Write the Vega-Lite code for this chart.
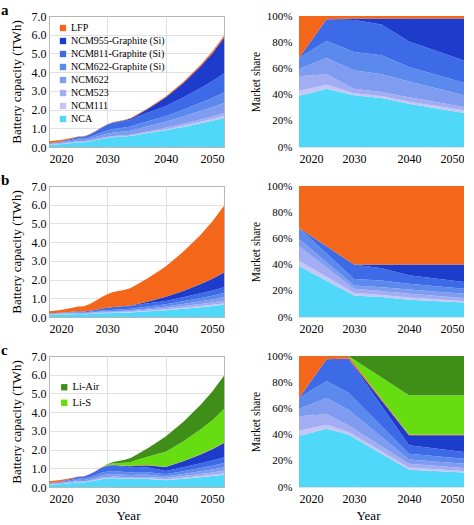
{
"$schema":"https://vega.github.io/schema/vega-lite/v6.json",
"background":"white",
"padding":{"left":0,"top":2,"right":0,"bottom":0},
"config":{
 "font":"Liberation Serif",
 "view":{"stroke":null},
 "axis":{"labelFont":"Liberation Serif","titleFont":"Liberation Serif","labelFontSize":12,"titleFontSize":13,"titleFontWeight":"normal","labelColor":"#000","titleColor":"#000","ticks":false,"domain":false,"gridColor":"#d9d9d9","gridWidth":0.8},
 "axisX":{"labelPadding":6,"titlePadding":5},
 "axisY":{"labelPadding":3,"titlePadding":8},
 "legend":{"labelFont":"Liberation Serif","labelFontSize":10,"labelColor":"#000","symbolType":"square","symbolSize":40,"symbolStrokeWidth":0,"symbolOpacity":1,"rowPadding":3,"labelOffset":3,"padding":0}
},
"datasets":{
"cats":[{"k":"nca","cat":"NCA","o":1},{"k":"n111","cat":"NCM111","o":2},{"k":"n523","cat":"NCM523","o":3},{"k":"n622","cat":"NCM622","o":4},{"k":"g622","cat":"NCM622-Graphite (Si)","o":5},{"k":"g811","cat":"NCM811-Graphite (Si)","o":6},{"k":"g955","cat":"NCM955-Graphite (Si)","o":7},{"k":"lfp","cat":"LFP","o":8},{"k":"lis","cat":"Li-S","o":9},{"k":"air","cat":"Li-Air","o":10}],
"aL":[
{"yr":2020,"k":"nca","v":0.117},{"yr":2020,"k":"n111","v":0.012},{"yr":2020,"k":"n523","v":0.033},{"yr":2020,"k":"n622","v":0.017},{"yr":2020,"k":"g622","v":0.026},{"yr":2020,"k":"g811","v":0},{"yr":2020,"k":"g955","v":0},{"yr":2020,"k":"lfp","v":0.096},
{"yr":2022,"k":"nca","v":0.152},{"yr":2022,"k":"n111","v":0.013},{"yr":2022,"k":"n523","v":0.036},{"yr":2022,"k":"n622","v":0.031},{"yr":2022,"k":"g622","v":0.038},{"yr":2022,"k":"g811","v":0.024},{"yr":2022,"k":"g955","v":0},{"yr":2022,"k":"lfp","v":0.075},
{"yr":2024,"k":"nca","v":0.213},{"yr":2024,"k":"n111","v":0.016},{"yr":2024,"k":"n523","v":0.042},{"yr":2024,"k":"n622","v":0.054},{"yr":2024,"k":"g622","v":0.059},{"yr":2024,"k":"g811","v":0.065},{"yr":2024,"k":"g955","v":0},{"yr":2024,"k":"lfp","v":0.041},
{"yr":2025,"k":"nca","v":0.249},{"yr":2025,"k":"n111","v":0.017},{"yr":2025,"k":"n523","v":0.045},{"yr":2025,"k":"n622","v":0.070},{"yr":2025,"k":"g622","v":0.073},{"yr":2025,"k":"g811","v":0.092},{"yr":2025,"k":"g955","v":0},{"yr":2025,"k":"lfp","v":0.014},
{"yr":2026,"k":"nca","v":0.248},{"yr":2026,"k":"n111","v":0.015},{"yr":2026,"k":"n523","v":0.040},{"yr":2026,"k":"n622","v":0.073},{"yr":2026,"k":"g622","v":0.075},{"yr":2026,"k":"g811","v":0.103},{"yr":2026,"k":"g955","v":0.001},{"yr":2026,"k":"lfp","v":0.014},
{"yr":2027,"k":"nca","v":0.293},{"yr":2027,"k":"n111","v":0.017},{"yr":2027,"k":"n523","v":0.043},{"yr":2027,"k":"n622","v":0.090},{"yr":2027,"k":"g622","v":0.092},{"yr":2027,"k":"g811","v":0.136},{"yr":2027,"k":"g955","v":0.003},{"yr":2027,"k":"lfp","v":0.016},
{"yr":2028,"k":"nca","v":0.357},{"yr":2028,"k":"n111","v":0.018},{"yr":2028,"k":"n523","v":0.046},{"yr":2028,"k":"n622","v":0.115},{"yr":2028,"k":"g622","v":0.117},{"yr":2028,"k":"g811","v":0.183},{"yr":2028,"k":"g955","v":0.005},{"yr":2028,"k":"lfp","v":0.019},
{"yr":2029,"k":"nca","v":0.425},{"yr":2029,"k":"n111","v":0.019},{"yr":2029,"k":"n523","v":0.046},{"yr":2029,"k":"n622","v":0.144},{"yr":2029,"k":"g622","v":0.145},{"yr":2029,"k":"g811","v":0.240},{"yr":2029,"k":"g955","v":0.008},{"yr":2029,"k":"lfp","v":0.022},
{"yr":2030,"k":"nca","v":0.482},{"yr":2030,"k":"n111","v":0.018},{"yr":2030,"k":"n523","v":0.043},{"yr":2030,"k":"n622","v":0.171},{"yr":2030,"k":"g622","v":0.171},{"yr":2030,"k":"g811","v":0.299},{"yr":2030,"k":"g955","v":0.012},{"yr":2030,"k":"lfp","v":0.024},
{"yr":2031,"k":"nca","v":0.524},{"yr":2031,"k":"n111","v":0.020},{"yr":2031,"k":"n523","v":0.046},{"yr":2031,"k":"n622","v":0.186},{"yr":2031,"k":"g622","v":0.189},{"yr":2031,"k":"g811","v":0.326},{"yr":2031,"k":"g955","v":0.023},{"yr":2031,"k":"lfp","v":0.027},
{"yr":2033,"k":"nca","v":0.559},{"yr":2033,"k":"n111","v":0.022},{"yr":2033,"k":"n523","v":0.047},{"yr":2033,"k":"n622","v":0.200},{"yr":2033,"k":"g622","v":0.209},{"yr":2033,"k":"g811","v":0.349},{"yr":2033,"k":"g955","v":0.045},{"yr":2033,"k":"lfp","v":0.029},
{"yr":2034,"k":"nca","v":0.587},{"yr":2034,"k":"n111","v":0.023},{"yr":2034,"k":"n523","v":0.048},{"yr":2034,"k":"n622","v":0.211},{"yr":2034,"k":"g622","v":0.223},{"yr":2034,"k":"g811","v":0.367},{"yr":2034,"k":"g955","v":0.059},{"yr":2034,"k":"lfp","v":0.031},
{"yr":2035,"k":"nca","v":0.645},{"yr":2035,"k":"n111","v":0.026},{"yr":2035,"k":"n523","v":0.052},{"yr":2035,"k":"n622","v":0.232},{"yr":2035,"k":"g622","v":0.249},{"yr":2035,"k":"g811","v":0.404},{"yr":2035,"k":"g955","v":0.077},{"yr":2035,"k":"lfp","v":0.034},
{"yr":2037,"k":"nca","v":0.743},{"yr":2037,"k":"n111","v":0.031},{"yr":2037,"k":"n523","v":0.067},{"yr":2037,"k":"n622","v":0.268},{"yr":2037,"k":"g622","v":0.272},{"yr":2037,"k":"g811","v":0.456},{"yr":2037,"k":"g955","v":0.202},{"yr":2037,"k":"lfp","v":0.042},
{"yr":2040,"k":"nca","v":0.891},{"yr":2040,"k":"n111","v":0.041},{"yr":2040,"k":"n523","v":0.095},{"yr":2040,"k":"n622","v":0.324},{"yr":2040,"k":"g622","v":0.297},{"yr":2040,"k":"g811","v":0.527},{"yr":2040,"k":"g955","v":0.473},{"yr":2040,"k":"lfp","v":0.054},
{"yr":2043,"k":"nca","v":1.075},{"yr":2043,"k":"n111","v":0.057},{"yr":2043,"k":"n523","v":0.111},{"yr":2043,"k":"n622","v":0.386},{"yr":2043,"k":"g622","v":0.367},{"yr":2043,"k":"g811","v":0.653},{"yr":2043,"k":"g955","v":0.760},{"yr":2043,"k":"lfp","v":0.070},
{"yr":2046,"k":"nca","v":1.267},{"yr":2046,"k":"n111","v":0.079},{"yr":2046,"k":"n523","v":0.128},{"yr":2046,"k":"n622","v":0.449},{"yr":2046,"k":"g622","v":0.444},{"yr":2046,"k":"g811","v":0.792},{"yr":2046,"k":"g955","v":1.153},{"yr":2046,"k":"lfp","v":0.088},
{"yr":2048,"k":"nca","v":1.397},{"yr":2048,"k":"n111","v":0.097},{"yr":2048,"k":"n523","v":0.138},{"yr":2048,"k":"n622","v":0.490},{"yr":2048,"k":"g622","v":0.500},{"yr":2048,"k":"g811","v":0.887},{"yr":2048,"k":"g955","v":1.489},{"yr":2048,"k":"lfp","v":0.102},
{"yr":2050,"k":"nca","v":1.547},{"yr":2050,"k":"n111","v":0.119},{"yr":2050,"k":"n523","v":0.149},{"yr":2050,"k":"n622","v":0.536},{"yr":2050,"k":"g622","v":0.565},{"yr":2050,"k":"g811","v":1.012},{"yr":2050,"k":"g955","v":1.904},{"yr":2050,"k":"lfp","v":0.119}
],
"bL":[
{"yr":2020,"k":"nca","v":0.117},{"yr":2020,"k":"n111","v":0.012},{"yr":2020,"k":"n523","v":0.033},{"yr":2020,"k":"n622","v":0.017},{"yr":2020,"k":"g622","v":0.026},{"yr":2020,"k":"g811","v":0},{"yr":2020,"k":"g955","v":0},{"yr":2020,"k":"lfp","v":0.096},
{"yr":2022,"k":"nca","v":0.128},{"yr":2022,"k":"n111","v":0.013},{"yr":2022,"k":"n523","v":0.035},{"yr":2022,"k":"n622","v":0.018},{"yr":2022,"k":"g622","v":0.029},{"yr":2022,"k":"g811","v":0.008},{"yr":2022,"k":"g955","v":0},{"yr":2022,"k":"lfp","v":0.139},
{"yr":2024,"k":"nca","v":0.147},{"yr":2024,"k":"n111","v":0.016},{"yr":2024,"k":"n523","v":0.038},{"yr":2024,"k":"n622","v":0.021},{"yr":2024,"k":"g622","v":0.035},{"yr":2024,"k":"g811","v":0.022},{"yr":2024,"k":"g955","v":0},{"yr":2024,"k":"lfp","v":0.212},
{"yr":2025,"k":"nca","v":0.155},{"yr":2025,"k":"n111","v":0.017},{"yr":2025,"k":"n523","v":0.039},{"yr":2025,"k":"n622","v":0.022},{"yr":2025,"k":"g622","v":0.038},{"yr":2025,"k":"g811","v":0.031},{"yr":2025,"k":"g955","v":0},{"yr":2025,"k":"lfp","v":0.258},
{"yr":2026,"k":"nca","v":0.145},{"yr":2026,"k":"n111","v":0.016},{"yr":2026,"k":"n523","v":0.035},{"yr":2026,"k":"n622","v":0.021},{"yr":2026,"k":"g622","v":0.036},{"yr":2026,"k":"g811","v":0.038},{"yr":2026,"k":"g955","v":0},{"yr":2026,"k":"lfp","v":0.278},
{"yr":2027,"k":"nca","v":0.160},{"yr":2027,"k":"n111","v":0.018},{"yr":2027,"k":"n523","v":0.037},{"yr":2027,"k":"n622","v":0.023},{"yr":2027,"k":"g622","v":0.042},{"yr":2027,"k":"g811","v":0.053},{"yr":2027,"k":"g955","v":0},{"yr":2027,"k":"lfp","v":0.356},
{"yr":2028,"k":"nca","v":0.181},{"yr":2028,"k":"n111","v":0.021},{"yr":2028,"k":"n523","v":0.040},{"yr":2028,"k":"n622","v":0.027},{"yr":2028,"k":"g622","v":0.049},{"yr":2028,"k":"g811","v":0.076},{"yr":2028,"k":"g955","v":0},{"yr":2028,"k":"lfp","v":0.468},
{"yr":2029,"k":"nca","v":0.197},{"yr":2029,"k":"n111","v":0.023},{"yr":2029,"k":"n523","v":0.040},{"yr":2029,"k":"n622","v":0.029},{"yr":2029,"k":"g622","v":0.056},{"yr":2029,"k":"g811","v":0.104},{"yr":2029,"k":"g955","v":0},{"yr":2029,"k":"lfp","v":0.601},
{"yr":2030,"k":"nca","v":0.201},{"yr":2030,"k":"n111","v":0.024},{"yr":2030,"k":"n523","v":0.037},{"yr":2030,"k":"n622","v":0.031},{"yr":2030,"k":"g622","v":0.061},{"yr":2030,"k":"g811","v":0.134},{"yr":2030,"k":"g955","v":0},{"yr":2030,"k":"lfp","v":0.732},
{"yr":2031,"k":"nca","v":0.218},{"yr":2031,"k":"n111","v":0.025},{"yr":2031,"k":"n523","v":0.040},{"yr":2031,"k":"n622","v":0.035},{"yr":2031,"k":"g622","v":0.067},{"yr":2031,"k":"g811","v":0.143},{"yr":2031,"k":"g955","v":0.007},{"yr":2031,"k":"lfp","v":0.804},
{"yr":2033,"k":"nca","v":0.230},{"yr":2033,"k":"n111","v":0.025},{"yr":2033,"k":"n523","v":0.044},{"yr":2033,"k":"n622","v":0.041},{"yr":2033,"k":"g622","v":0.073},{"yr":2033,"k":"g811","v":0.147},{"yr":2033,"k":"g955","v":0.024},{"yr":2033,"k":"lfp","v":0.876},
{"yr":2034,"k":"nca","v":0.241},{"yr":2034,"k":"n111","v":0.025},{"yr":2034,"k":"n523","v":0.047},{"yr":2034,"k":"n622","v":0.045},{"yr":2034,"k":"g622","v":0.078},{"yr":2034,"k":"g811","v":0.152},{"yr":2034,"k":"g955","v":0.033},{"yr":2034,"k":"lfp","v":0.930},
{"yr":2035,"k":"nca","v":0.263},{"yr":2035,"k":"n111","v":0.026},{"yr":2035,"k":"n523","v":0.052},{"yr":2035,"k":"n622","v":0.052},{"yr":2035,"k":"g622","v":0.086},{"yr":2035,"k":"g811","v":0.163},{"yr":2035,"k":"g955","v":0.046},{"yr":2035,"k":"lfp","v":1.032},
{"yr":2037,"k":"nca","v":0.301},{"yr":2037,"k":"n111","v":0.032},{"yr":2037,"k":"n523","v":0.062},{"yr":2037,"k":"n622","v":0.064},{"yr":2037,"k":"g622","v":0.099},{"yr":2037,"k":"g811","v":0.172},{"yr":2037,"k":"g955","v":0.102},{"yr":2037,"k":"lfp","v":1.248},
{"yr":2040,"k":"nca","v":0.356},{"yr":2040,"k":"n111","v":0.043},{"yr":2040,"k":"n523","v":0.081},{"yr":2040,"k":"n622","v":0.086},{"yr":2040,"k":"g622","v":0.119},{"yr":2040,"k":"g811","v":0.173},{"yr":2040,"k":"g955","v":0.221},{"yr":2040,"k":"lfp","v":1.620},
{"yr":2043,"k":"nca","v":0.436},{"yr":2043,"k":"n111","v":0.052},{"yr":2043,"k":"n523","v":0.097},{"yr":2043,"k":"n622","v":0.112},{"yr":2043,"k":"g622","v":0.147},{"yr":2043,"k":"g811","v":0.209},{"yr":2043,"k":"g955","v":0.339},{"yr":2043,"k":"lfp","v":2.088},
{"yr":2046,"k":"nca","v":0.523},{"yr":2046,"k":"n111","v":0.060},{"yr":2046,"k":"n523","v":0.114},{"yr":2046,"k":"n622","v":0.143},{"yr":2046,"k":"g622","v":0.178},{"yr":2046,"k":"g811","v":0.247},{"yr":2046,"k":"g955","v":0.495},{"yr":2046,"k":"lfp","v":2.640},
{"yr":2048,"k":"nca","v":0.583},{"yr":2048,"k":"n111","v":0.065},{"yr":2048,"k":"n523","v":0.124},{"yr":2048,"k":"n622","v":0.167},{"yr":2048,"k":"g622","v":0.200},{"yr":2048,"k":"g811","v":0.273},{"yr":2048,"k":"g955","v":0.626},{"yr":2048,"k":"lfp","v":3.060},
{"yr":2050,"k":"nca","v":0.655},{"yr":2050,"k":"n111","v":0.071},{"yr":2050,"k":"n523","v":0.137},{"yr":2050,"k":"n622","v":0.196},{"yr":2050,"k":"g622","v":0.226},{"yr":2050,"k":"g811","v":0.303},{"yr":2050,"k":"g955","v":0.791},{"yr":2050,"k":"lfp","v":3.570}
],
"cL":[
{"yr":2020,"k":"nca","v":0.117},{"yr":2020,"k":"n111","v":0.012},{"yr":2020,"k":"n523","v":0.033},{"yr":2020,"k":"n622","v":0.017},{"yr":2020,"k":"g622","v":0.026},{"yr":2020,"k":"g811","v":0},{"yr":2020,"k":"g955","v":0},{"yr":2020,"k":"lfp","v":0.096},{"yr":2020,"k":"lis","v":0},{"yr":2020,"k":"air","v":0},
{"yr":2022,"k":"nca","v":0.152},{"yr":2022,"k":"n111","v":0.013},{"yr":2022,"k":"n523","v":0.036},{"yr":2022,"k":"n622","v":0.031},{"yr":2022,"k":"g622","v":0.038},{"yr":2022,"k":"g811","v":0.024},{"yr":2022,"k":"g955","v":0},{"yr":2022,"k":"lfp","v":0.075},{"yr":2022,"k":"lis","v":0},{"yr":2022,"k":"air","v":0},
{"yr":2024,"k":"nca","v":0.213},{"yr":2024,"k":"n111","v":0.016},{"yr":2024,"k":"n523","v":0.042},{"yr":2024,"k":"n622","v":0.054},{"yr":2024,"k":"g622","v":0.059},{"yr":2024,"k":"g811","v":0.065},{"yr":2024,"k":"g955","v":0},{"yr":2024,"k":"lfp","v":0.041},{"yr":2024,"k":"lis","v":0},{"yr":2024,"k":"air","v":0},
{"yr":2025,"k":"nca","v":0.249},{"yr":2025,"k":"n111","v":0.017},{"yr":2025,"k":"n523","v":0.045},{"yr":2025,"k":"n622","v":0.070},{"yr":2025,"k":"g622","v":0.073},{"yr":2025,"k":"g811","v":0.092},{"yr":2025,"k":"g955","v":0},{"yr":2025,"k":"lfp","v":0.014},{"yr":2025,"k":"lis","v":0},{"yr":2025,"k":"air","v":0},
{"yr":2026,"k":"nca","v":0.247},{"yr":2026,"k":"n111","v":0.016},{"yr":2026,"k":"n523","v":0.041},{"yr":2026,"k":"n622","v":0.071},{"yr":2026,"k":"g622","v":0.074},{"yr":2026,"k":"g811","v":0.108},{"yr":2026,"k":"g955","v":0},{"yr":2026,"k":"lfp","v":0.014},{"yr":2026,"k":"lis","v":0},{"yr":2026,"k":"air","v":0},
{"yr":2027,"k":"nca","v":0.292},{"yr":2027,"k":"n111","v":0.017},{"yr":2027,"k":"n523","v":0.045},{"yr":2027,"k":"n622","v":0.085},{"yr":2027,"k":"g622","v":0.090},{"yr":2027,"k":"g811","v":0.147},{"yr":2027,"k":"g955","v":0},{"yr":2027,"k":"lfp","v":0.016},{"yr":2027,"k":"lis","v":0},{"yr":2027,"k":"air","v":0},
{"yr":2028,"k":"nca","v":0.354},{"yr":2028,"k":"n111","v":0.019},{"yr":2028,"k":"n523","v":0.049},{"yr":2028,"k":"n622","v":0.104},{"yr":2028,"k":"g622","v":0.112},{"yr":2028,"k":"g811","v":0.203},{"yr":2028,"k":"g955","v":0},{"yr":2028,"k":"lfp","v":0.018},{"yr":2028,"k":"lis","v":0},{"yr":2028,"k":"air","v":0},
{"yr":2029,"k":"nca","v":0.420},{"yr":2029,"k":"n111","v":0.021},{"yr":2029,"k":"n523","v":0.053},{"yr":2029,"k":"n622","v":0.126},{"yr":2029,"k":"g622","v":0.137},{"yr":2029,"k":"g811","v":0.273},{"yr":2029,"k":"g955","v":0},{"yr":2029,"k":"lfp","v":0.021},{"yr":2029,"k":"lis","v":0},{"yr":2029,"k":"air","v":0},
{"yr":2030,"k":"nca","v":0.458},{"yr":2030,"k":"n111","v":0.024},{"yr":2030,"k":"n523","v":0.059},{"yr":2030,"k":"n622","v":0.137},{"yr":2030,"k":"g622","v":0.149},{"yr":2030,"k":"g811","v":0.295},{"yr":2030,"k":"g955","v":0.009},{"yr":2030,"k":"lfp","v":0.023},{"yr":2030,"k":"lis","v":0.033},{"yr":2030,"k":"air","v":0.033},
{"yr":2031,"k":"nca","v":0.471},{"yr":2031,"k":"n111","v":0.026},{"yr":2031,"k":"n523","v":0.062},{"yr":2031,"k":"n622","v":0.139},{"yr":2031,"k":"g622","v":0.153},{"yr":2031,"k":"g811","v":0.301},{"yr":2031,"k":"g955","v":0.019},{"yr":2031,"k":"lfp","v":0.023},{"yr":2031,"k":"lis","v":0.073},{"yr":2031,"k":"air","v":0.073},
{"yr":2033,"k":"nca","v":0.442},{"yr":2033,"k":"n111","v":0.027},{"yr":2033,"k":"n523","v":0.062},{"yr":2033,"k":"n622","v":0.128},{"yr":2033,"k":"g622","v":0.144},{"yr":2033,"k":"g811","v":0.276},{"yr":2033,"k":"g955","v":0.041},{"yr":2033,"k":"lfp","v":0.021},{"yr":2033,"k":"lis","v":0.159},{"yr":2033,"k":"air","v":0.159},
{"yr":2034,"k":"nca","v":0.431},{"yr":2034,"k":"n111","v":0.028},{"yr":2034,"k":"n523","v":0.063},{"yr":2034,"k":"n622","v":0.124},{"yr":2034,"k":"g622","v":0.141},{"yr":2034,"k":"g811","v":0.265},{"yr":2034,"k":"g955","v":0.054},{"yr":2034,"k":"lfp","v":0.020},{"yr":2034,"k":"lis","v":0.211},{"yr":2034,"k":"air","v":0.211},
{"yr":2035,"k":"nca","v":0.437},{"yr":2035,"k":"n111","v":0.031},{"yr":2035,"k":"n523","v":0.067},{"yr":2035,"k":"n622","v":0.124},{"yr":2035,"k":"g622","v":0.143},{"yr":2035,"k":"g811","v":0.263},{"yr":2035,"k":"g955","v":0.072},{"yr":2035,"k":"lfp","v":0.020},{"yr":2035,"k":"lis","v":0.281},{"yr":2035,"k":"air","v":0.281},
{"yr":2037,"k":"nca","v":0.427},{"yr":2037,"k":"n111","v":0.036},{"yr":2037,"k":"n523","v":0.074},{"yr":2037,"k":"n622","v":0.116},{"yr":2037,"k":"g622","v":0.140},{"yr":2037,"k":"g811","v":0.244},{"yr":2037,"k":"g955","v":0.116},{"yr":2037,"k":"lfp","v":0.019},{"yr":2037,"k":"lis","v":0.454},{"yr":2037,"k":"air","v":0.454},
{"yr":2040,"k":"nca","v":0.356},{"yr":2040,"k":"n111","v":0.043},{"yr":2040,"k":"n523","v":0.081},{"yr":2040,"k":"n622","v":0.086},{"yr":2040,"k":"g622","v":0.119},{"yr":2040,"k":"g811","v":0.173},{"yr":2040,"k":"g955","v":0.208},{"yr":2040,"k":"lfp","v":0.014},{"yr":2040,"k":"lis","v":0.810},{"yr":2040,"k":"air","v":0.810},
{"yr":2043,"k":"nca","v":0.436},{"yr":2043,"k":"n111","v":0.052},{"yr":2043,"k":"n523","v":0.097},{"yr":2043,"k":"n622","v":0.112},{"yr":2043,"k":"g622","v":0.147},{"yr":2043,"k":"g811","v":0.209},{"yr":2043,"k":"g955","v":0.321},{"yr":2043,"k":"lfp","v":0.017},{"yr":2043,"k":"lis","v":1.044},{"yr":2043,"k":"air","v":1.044},
{"yr":2046,"k":"nca","v":0.523},{"yr":2046,"k":"n111","v":0.060},{"yr":2046,"k":"n523","v":0.114},{"yr":2046,"k":"n622","v":0.143},{"yr":2046,"k":"g622","v":0.178},{"yr":2046,"k":"g811","v":0.247},{"yr":2046,"k":"g955","v":0.473},{"yr":2046,"k":"lfp","v":0.022},{"yr":2046,"k":"lis","v":1.320},{"yr":2046,"k":"air","v":1.320},
{"yr":2048,"k":"nca","v":0.583},{"yr":2048,"k":"n111","v":0.065},{"yr":2048,"k":"n523","v":0.124},{"yr":2048,"k":"n622","v":0.167},{"yr":2048,"k":"g622","v":0.200},{"yr":2048,"k":"g811","v":0.273},{"yr":2048,"k":"g955","v":0.601},{"yr":2048,"k":"lfp","v":0.026},{"yr":2048,"k":"lis","v":1.530},{"yr":2048,"k":"air","v":1.530},
{"yr":2050,"k":"nca","v":0.655},{"yr":2050,"k":"n111","v":0.071},{"yr":2050,"k":"n523","v":0.137},{"yr":2050,"k":"n622","v":0.196},{"yr":2050,"k":"g622","v":0.226},{"yr":2050,"k":"g811","v":0.303},{"yr":2050,"k":"g955","v":0.762},{"yr":2050,"k":"lfp","v":0.030},{"yr":2050,"k":"lis","v":1.785},{"yr":2050,"k":"air","v":1.785}
],
"aR":[
{"yr":2020,"k":"nca","v":39},{"yr":2020,"k":"n111","v":4},{"yr":2020,"k":"n523","v":11},{"yr":2020,"k":"n622","v":5.5},{"yr":2020,"k":"g622","v":8.5},{"yr":2020,"k":"g811","v":0},{"yr":2020,"k":"g955","v":0},{"yr":2020,"k":"lfp","v":32},
{"yr":2025,"k":"nca","v":44.5},{"yr":2025,"k":"n111","v":3},{"yr":2025,"k":"n523","v":8},{"yr":2025,"k":"n622","v":12.5},{"yr":2025,"k":"g622","v":13},{"yr":2025,"k":"g811","v":16.5},{"yr":2025,"k":"g955","v":0},{"yr":2025,"k":"lfp","v":2.5},
{"yr":2030,"k":"nca","v":39.5},{"yr":2030,"k":"n111","v":1.5},{"yr":2030,"k":"n523","v":3.5},{"yr":2030,"k":"n622","v":14},{"yr":2030,"k":"g622","v":14},{"yr":2030,"k":"g811","v":24.5},{"yr":2030,"k":"g955","v":1},{"yr":2030,"k":"lfp","v":2},
{"yr":2035,"k":"nca","v":37.5},{"yr":2035,"k":"n111","v":1.5},{"yr":2035,"k":"n523","v":3},{"yr":2035,"k":"n622","v":13.5},{"yr":2035,"k":"g622","v":14.5},{"yr":2035,"k":"g811","v":23.5},{"yr":2035,"k":"g955","v":4.5},{"yr":2035,"k":"lfp","v":2},
{"yr":2040,"k":"nca","v":33},{"yr":2040,"k":"n111","v":1.5},{"yr":2040,"k":"n523","v":3.5},{"yr":2040,"k":"n622","v":12},{"yr":2040,"k":"g622","v":11},{"yr":2040,"k":"g811","v":19.5},{"yr":2040,"k":"g955","v":17.5},{"yr":2040,"k":"lfp","v":2},
{"yr":2050,"k":"nca","v":26},{"yr":2050,"k":"n111","v":2},{"yr":2050,"k":"n523","v":2.5},{"yr":2050,"k":"n622","v":9},{"yr":2050,"k":"g622","v":9.5},{"yr":2050,"k":"g811","v":17},{"yr":2050,"k":"g955","v":32},{"yr":2050,"k":"lfp","v":2}
],
"bR":[
{"yr":2020,"k":"nca","v":39},{"yr":2020,"k":"n111","v":4},{"yr":2020,"k":"n523","v":11},{"yr":2020,"k":"n622","v":5.5},{"yr":2020,"k":"g622","v":8.5},{"yr":2020,"k":"g811","v":0},{"yr":2020,"k":"g955","v":0},{"yr":2020,"k":"lfp","v":32},
{"yr":2030,"k":"nca","v":16.5},{"yr":2030,"k":"n111","v":2},{"yr":2030,"k":"n523","v":3},{"yr":2030,"k":"n622","v":2.5},{"yr":2030,"k":"g622","v":5},{"yr":2030,"k":"g811","v":11},{"yr":2030,"k":"g955","v":0},{"yr":2030,"k":"lfp","v":60},
{"yr":2035,"k":"nca","v":15.3},{"yr":2035,"k":"n111","v":1.5},{"yr":2035,"k":"n523","v":3},{"yr":2035,"k":"n622","v":3},{"yr":2035,"k":"g622","v":5},{"yr":2035,"k":"g811","v":9.5},{"yr":2035,"k":"g955","v":2.7},{"yr":2035,"k":"lfp","v":60},
{"yr":2040,"k":"nca","v":13.2},{"yr":2040,"k":"n111","v":1.6},{"yr":2040,"k":"n523","v":3},{"yr":2040,"k":"n622","v":3.2},{"yr":2040,"k":"g622","v":4.4},{"yr":2040,"k":"g811","v":6.4},{"yr":2040,"k":"g955","v":8.2},{"yr":2040,"k":"lfp","v":60},
{"yr":2050,"k":"nca","v":11},{"yr":2050,"k":"n111","v":1.2},{"yr":2050,"k":"n523","v":2.3},{"yr":2050,"k":"n622","v":3.3},{"yr":2050,"k":"g622","v":3.8},{"yr":2050,"k":"g811","v":5.1},{"yr":2050,"k":"g955","v":13.3},{"yr":2050,"k":"lfp","v":60}
],
"cR":[
{"yr":2020,"k":"nca","v":39},{"yr":2020,"k":"n111","v":4},{"yr":2020,"k":"n523","v":11},{"yr":2020,"k":"n622","v":5.5},{"yr":2020,"k":"g622","v":8.5},{"yr":2020,"k":"g811","v":0},{"yr":2020,"k":"g955","v":0},{"yr":2020,"k":"lfp","v":32},{"yr":2020,"k":"lis","v":0},{"yr":2020,"k":"air","v":0},
{"yr":2025,"k":"nca","v":44.5},{"yr":2025,"k":"n111","v":3},{"yr":2025,"k":"n523","v":8},{"yr":2025,"k":"n622","v":12.5},{"yr":2025,"k":"g622","v":13},{"yr":2025,"k":"g811","v":16.5},{"yr":2025,"k":"g955","v":0},{"yr":2025,"k":"lfp","v":2.5},{"yr":2025,"k":"lis","v":0},{"yr":2025,"k":"air","v":0},
{"yr":2029,"k":"nca","v":40},{"yr":2029,"k":"n111","v":2},{"yr":2029,"k":"n523","v":5},{"yr":2029,"k":"n622","v":12},{"yr":2029,"k":"g622","v":13},{"yr":2029,"k":"g811","v":26},{"yr":2029,"k":"g955","v":0},{"yr":2029,"k":"lfp","v":2},{"yr":2029,"k":"lis","v":0},{"yr":2029,"k":"air","v":0},
{"yr":2040,"k":"nca","v":13.2},{"yr":2040,"k":"n111","v":1.6},{"yr":2040,"k":"n523","v":3},{"yr":2040,"k":"n622","v":3.2},{"yr":2040,"k":"g622","v":4.4},{"yr":2040,"k":"g811","v":6.4},{"yr":2040,"k":"g955","v":7.7},{"yr":2040,"k":"lfp","v":0.5},{"yr":2040,"k":"lis","v":30},{"yr":2040,"k":"air","v":30},
{"yr":2050,"k":"nca","v":11},{"yr":2050,"k":"n111","v":1.2},{"yr":2050,"k":"n523","v":2.3},{"yr":2050,"k":"n622","v":3.3},{"yr":2050,"k":"g622","v":3.8},{"yr":2050,"k":"g811","v":5.1},{"yr":2050,"k":"g955","v":12.8},{"yr":2050,"k":"lfp","v":0.5},{"yr":2050,"k":"lis","v":30},{"yr":2050,"k":"air","v":30}
]
},
"columns":2,
"spacing":{"row":39,"column":75},
"bounds":"flush",
"resolve":{"scale":{"color":"independent"},"legend":{"color":"independent"}},
"concat":[
 {"width":175,"height":131,"view":{"stroke":"#333","strokeWidth":1},
  "title":{"text":"a","anchor":"start","frame":"group","dx":-48,"dy":22,"offset":2,"baseline":"alphabetic","fontSize":15,"fontWeight":"bold","font":"Liberation Serif","color":"#000"},
  "data":{"name":"aL"},
  "transform":[{"lookup":"k","from":{"data":{"name":"cats"},"key":"k","fields":["cat","o"]}}],
  "mark":{"type":"area","interpolate":"linear"},
  "encoding":{
   "x":{"field":"yr","type":"quantitative","scale":{"domain":[2020,2050],"nice":false,"zero":false},"axis":{"values":[2020,2030,2040,2050],"format":"d","title":null}},
   "y":{"field":"v","type":"quantitative","stack":"zero","scale":{"domain":[0,7],"nice":false},"axis":{"values":[0,1,2,3,4,5,6,7],"format":".1f","grid":true,"title":"Battery capacity (TWh)"}},
   "color":{"field":"cat","type":"nominal","scale":{"domain":["LFP","NCM955-Graphite (Si)","NCM811-Graphite (Si)","NCM622-Graphite (Si)","NCM622","NCM523","NCM111","NCA","Li-Air","Li-S"],"range":["#f4661a","#1d3ccc","#3d6ae6","#5c89ee","#7f9cf1","#a2adf3","#c3c6f6","#4fd8fa","#3e8e18","#66dd10"]},
     "legend":{"orient":"none","legendX":9,"legendY":7,"title":null,"values":["LFP","NCM955-Graphite (Si)","NCM811-Graphite (Si)","NCM622-Graphite (Si)","NCM622","NCM523","NCM111","NCA"]}},
   "order":{"field":"o","type":"quantitative"}
  }},
 {"width":165,"height":131,
  "data":{"name":"aR"},
  "transform":[{"lookup":"k","from":{"data":{"name":"cats"},"key":"k","fields":["cat","o"]}}],
  "mark":{"type":"area","interpolate":"linear"},
  "encoding":{
   "x":{"field":"yr","type":"quantitative","scale":{"domain":[2020,2050],"nice":false,"zero":false},"axis":{"values":[2020,2030,2040,2050],"format":"d","title":null}},
   "y":{"field":"v","type":"quantitative","stack":"zero","scale":{"domain":[0,100],"nice":false},"axis":{"values":[0,20,40,60,80,100],"labelExpr":"datum.value + '%'","labelFontSize":11,"labelPadding":7,"titlePadding":5,"titleFontSize":11.5,"title":"Market share"}},
   "color":{"field":"cat","type":"nominal","scale":{"domain":["LFP","NCM955-Graphite (Si)","NCM811-Graphite (Si)","NCM622-Graphite (Si)","NCM622","NCM523","NCM111","NCA","Li-Air","Li-S"],"range":["#f4661a","#1d3ccc","#3d6ae6","#5c89ee","#7f9cf1","#a2adf3","#c3c6f6","#4fd8fa","#3e8e18","#66dd10"]},"legend":null},
   "order":{"field":"o","type":"quantitative"}
  }},
 {"width":175,"height":131,"view":{"stroke":"#333","strokeWidth":1},
  "title":{"text":"b","anchor":"start","frame":"group","dx":-48,"dy":22,"offset":2,"baseline":"alphabetic","fontSize":15,"fontWeight":"bold","font":"Liberation Serif","color":"#000"},
  "data":{"name":"bL"},
  "transform":[{"lookup":"k","from":{"data":{"name":"cats"},"key":"k","fields":["cat","o"]}}],
  "mark":{"type":"area","interpolate":"linear"},
  "encoding":{
   "x":{"field":"yr","type":"quantitative","scale":{"domain":[2020,2050],"nice":false,"zero":false},"axis":{"values":[2020,2030,2040,2050],"format":"d","title":null}},
   "y":{"field":"v","type":"quantitative","stack":"zero","scale":{"domain":[0,7],"nice":false},"axis":{"values":[0,1,2,3,4,5,6,7],"format":".1f","grid":true,"title":"Battery capacity (TWh)"}},
   "color":{"field":"cat","type":"nominal","scale":{"domain":["LFP","NCM955-Graphite (Si)","NCM811-Graphite (Si)","NCM622-Graphite (Si)","NCM622","NCM523","NCM111","NCA","Li-Air","Li-S"],"range":["#f4661a","#1d3ccc","#3d6ae6","#5c89ee","#7f9cf1","#a2adf3","#c3c6f6","#4fd8fa","#3e8e18","#66dd10"]},"legend":null},
   "order":{"field":"o","type":"quantitative"}
  }},
 {"width":165,"height":131,
  "data":{"name":"bR"},
  "transform":[{"lookup":"k","from":{"data":{"name":"cats"},"key":"k","fields":["cat","o"]}}],
  "mark":{"type":"area","interpolate":"linear"},
  "encoding":{
   "x":{"field":"yr","type":"quantitative","scale":{"domain":[2020,2050],"nice":false,"zero":false},"axis":{"values":[2020,2030,2040,2050],"format":"d","title":null}},
   "y":{"field":"v","type":"quantitative","stack":"zero","scale":{"domain":[0,100],"nice":false},"axis":{"values":[0,20,40,60,80,100],"labelExpr":"datum.value + '%'","labelFontSize":11,"labelPadding":7,"titlePadding":5,"titleFontSize":11.5,"title":"Market share"}},
   "color":{"field":"cat","type":"nominal","scale":{"domain":["LFP","NCM955-Graphite (Si)","NCM811-Graphite (Si)","NCM622-Graphite (Si)","NCM622","NCM523","NCM111","NCA","Li-Air","Li-S"],"range":["#f4661a","#1d3ccc","#3d6ae6","#5c89ee","#7f9cf1","#a2adf3","#c3c6f6","#4fd8fa","#3e8e18","#66dd10"]},"legend":null},
   "order":{"field":"o","type":"quantitative"}
  }},
 {"width":175,"height":131,"view":{"stroke":"#333","strokeWidth":1},
  "title":{"text":"c","anchor":"start","frame":"group","dx":-48,"dy":22,"offset":2,"baseline":"alphabetic","fontSize":15,"fontWeight":"bold","font":"Liberation Serif","color":"#000"},
  "data":{"name":"cL"},
  "transform":[{"lookup":"k","from":{"data":{"name":"cats"},"key":"k","fields":["cat","o"]}}],
  "mark":{"type":"area","interpolate":"linear"},
  "encoding":{
   "x":{"field":"yr","type":"quantitative","scale":{"domain":[2020,2050],"nice":false,"zero":false},"axis":{"values":[2020,2030,2040,2050],"format":"d","title":"Year","titleX":79}},
   "y":{"field":"v","type":"quantitative","stack":"zero","scale":{"domain":[0,7],"nice":false},"axis":{"values":[0,1,2,3,4,5,6,7],"format":".1f","grid":true,"title":"Battery capacity (TWh)"}},
   "color":{"field":"cat","type":"nominal","scale":{"domain":["LFP","NCM955-Graphite (Si)","NCM811-Graphite (Si)","NCM622-Graphite (Si)","NCM622","NCM523","NCM111","NCA","Li-Air","Li-S"],"range":["#f4661a","#1d3ccc","#3d6ae6","#5c89ee","#7f9cf1","#a2adf3","#c3c6f6","#4fd8fa","#3e8e18","#66dd10"]},
     "legend":{"orient":"none","legendX":10,"legendY":26,"title":null,"rowPadding":4.5,"labelFontSize":10.5,"values":["Li-Air","Li-S"]}},
   "order":{"field":"o","type":"quantitative"}
  }},
 {"width":165,"height":131,
  "data":{"name":"cR"},
  "transform":[{"lookup":"k","from":{"data":{"name":"cats"},"key":"k","fields":["cat","o"]}}],
  "mark":{"type":"area","interpolate":"linear"},
  "encoding":{
   "x":{"field":"yr","type":"quantitative","scale":{"domain":[2020,2050],"nice":false,"zero":false},"axis":{"values":[2020,2030,2040,2050],"format":"d","title":"Year","titleX":69}},
   "y":{"field":"v","type":"quantitative","stack":"zero","scale":{"domain":[0,100],"nice":false},"axis":{"values":[0,20,40,60,80,100],"labelExpr":"datum.value + '%'","labelFontSize":11,"labelPadding":7,"titlePadding":5,"titleFontSize":11.5,"title":"Market share"}},
   "color":{"field":"cat","type":"nominal","scale":{"domain":["LFP","NCM955-Graphite (Si)","NCM811-Graphite (Si)","NCM622-Graphite (Si)","NCM622","NCM523","NCM111","NCA","Li-Air","Li-S"],"range":["#f4661a","#1d3ccc","#3d6ae6","#5c89ee","#7f9cf1","#a2adf3","#c3c6f6","#4fd8fa","#3e8e18","#66dd10"]},"legend":null},
   "order":{"field":"o","type":"quantitative"}
  }}
]
}
